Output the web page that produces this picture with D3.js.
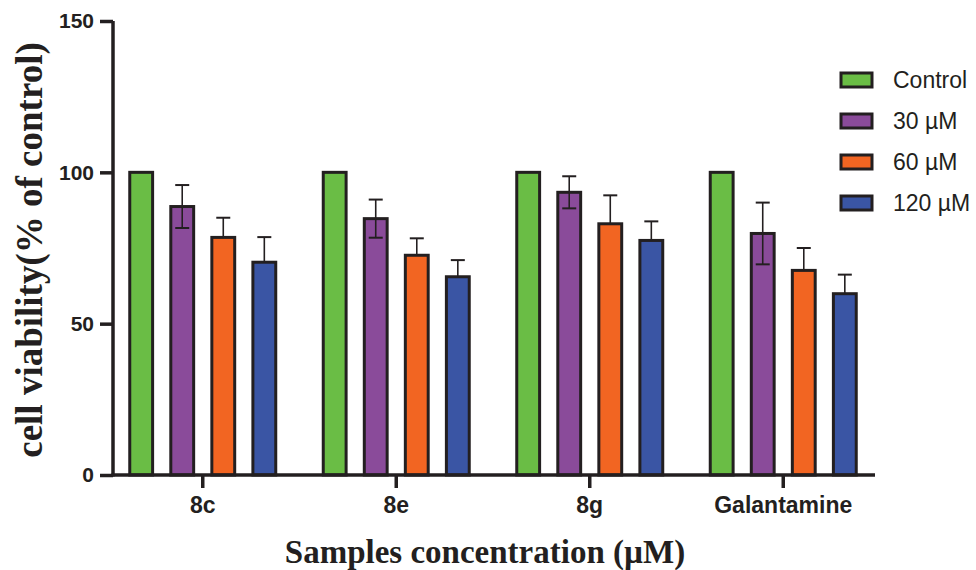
<!DOCTYPE html>
<html>
<head>
<meta charset="utf-8">
<script src="https://cdn.jsdelivr.net/npm/d3@7"></script>
<style>
  body { margin: 0; background: #fff; }
  svg text { fill: #231f20; }
</style>
</head>
<body>
<svg id="chart" width="976" height="570"></svg>
<script>
// samples and treatment series
var samples = ['8c', '8e', '8g', 'Galantamine'];
var series = ['Control', '30 \u00b5M', '60 \u00b5M', '120 \u00b5M'];
var colors = ['#6abd45', '#8a4b9a', '#f26522', '#3a55a4'];

// mean viability per series (one value per sample)
var control = [100, 100, 100, 100];
var conc30 = [88.7, 84.7, 93.4, 79.8];
var conc60 = [78.5, 72.6, 83.0, 67.6];
var conc120 = [70.3, 65.5, 77.5, 59.9];

// error (SD) per series
var err30 = [7.1, 6.3, 5.3, 10.2];
var err60 = [6.5, 5.6, 9.4, 7.4];
var err120 = [8.3, 5.5, 6.3, 6.3];

var yTicks = [0, 50, 100, 150];

var values = [control, conc30, conc60, conc120];
var errors = [null, err30, err60, err120];

var ink = '#231f20';
var svg = d3.select('#chart');

var y = d3.scaleLinear().domain([0, 150]).range([475, 21]);

var x0 = d3.scaleBand()
    .domain(samples)
    .range([106, 880])
    .paddingInner(0.23)
    .paddingOuter(0.115);

var x1 = d3.scaleBand()
    .domain(series)
    .range([0, x0.bandwidth()])
    .paddingInner(0.37);

var rows = [];
samples.forEach(function(s, i){
    series.forEach(function(k, j){
        rows.push({
            sample: s,
            key: k,
            color: colors[j],
            value: values[j][i],
            err: errors[j] ? errors[j][i] : null
        });
    });
});

// bars
var g = svg.append('g');
g.selectAll('rect.bar')
    .data(rows)
    .enter()
    .append('rect')
    .attr('class', 'bar')
    .attr('x', function(d){ return x0(d.sample) + x1(d.key) + 1.5; })
    .attr('y', function(d){ return y(d.value); })
    .attr('width', x1.bandwidth() - 3)
    .attr('height', function(d){ return y(0) - y(d.value); })
    .attr('fill', function(d){ return d.color; })
    .attr('stroke', ink)
    .attr('stroke-width', 3);

// error bars
var eb = rows.filter(function(d){ return d.err !== null; });
var cx = function(d){ return x0(d.sample) + x1(d.key) + x1.bandwidth() / 2; };

g.selectAll('line.err')
    .data(eb)
    .enter()
    .append('line')
    .attr('x1', cx).attr('x2', cx)
    .attr('y1', function(d){ return d.key === series[1] ? y(d.value - d.err) : y(d.value); })
    .attr('y2', function(d){ return y(d.value + d.err); })
    .attr('stroke', ink)
    .attr('stroke-width', 1.6);

g.selectAll('line.capTop')
    .data(eb)
    .enter()
    .append('line')
    .attr('x1', function(d){ return cx(d) - 7; })
    .attr('x2', function(d){ return cx(d) + 7; })
    .attr('y1', function(d){ return y(d.value + d.err); })
    .attr('y2', function(d){ return y(d.value + d.err); })
    .attr('stroke', ink)
    .attr('stroke-width', 2);

// purple bars show the lower cap too
g.selectAll('line.capBot')
    .data(eb.filter(function(d){ return d.key === series[1]; }))
    .enter()
    .append('line')
    .attr('x1', function(d){ return cx(d) - 7; })
    .attr('x2', function(d){ return cx(d) + 7; })
    .attr('y1', function(d){ return y(d.value - d.err); })
    .attr('y2', function(d){ return y(d.value - d.err); })
    .attr('stroke', ink)
    .attr('stroke-width', 2);

// y axis
var yAxis = svg.append('g')
    .attr('transform', 'translate(113,0)')
    .call(d3.axisLeft(y).tickValues(yTicks).tickSize(13).tickPadding(6));
yAxis.select('.domain').attr('stroke', ink).attr('stroke-width', 3.5)
    .attr('d', 'M0,' + y(150) + 'V' + (y(0) + 1.5));
yAxis.selectAll('.tick line').attr('stroke', ink).attr('stroke-width', 3.5);
yAxis.selectAll('.tick text')
    .style('font-family', '"Liberation Sans", Arial, sans-serif')
    .style('font-weight', 'bold')
    .style('font-size', '21px')
    .attr('fill', ink);

// x axis
var xAxis = svg.append('g')
    .attr('transform', 'translate(0,' + y(0) + ')')
    .call(d3.axisBottom(x0).tickSize(13).tickPadding(9));
xAxis.select('.domain').attr('stroke', ink).attr('stroke-width', 3.5)
    .attr('d', 'M111.5,0H875');
xAxis.selectAll('.tick line').attr('stroke', ink).attr('stroke-width', 3.5);
xAxis.selectAll('.tick text')
    .style('font-family', '"Liberation Sans", Arial, sans-serif')
    .style('font-weight', 'bold')
    .style('font-size', '23px')
    .attr('fill', ink);

// axis titles
svg.append('text')
    .attr('transform', 'translate(42,250) rotate(-90)')
    .attr('text-anchor', 'middle')
    .style('font-family', '"Liberation Serif", "Times New Roman", serif')
    .style('font-weight', 'bold')
    .style('font-size', '37px')
    .text('cell viability(% of control)');

svg.append('text')
    .attr('x', 485)
    .attr('y', 563)
    .attr('text-anchor', 'middle')
    .style('font-family', '"Liberation Serif", "Times New Roman", serif')
    .style('font-weight', 'bold')
    .style('font-size', '33px')
    .text('Samples concentration (\u00b5M)');

// legend
var legend = svg.append('g')
    .selectAll('g')
    .data(series)
    .enter()
    .append('g')
    .attr('transform', function(d, i){ return 'translate(841,' + (73 + i * 41) + ')'; });

legend.append('rect')
    .attr('width', 31)
    .attr('height', 14)
    .attr('fill', function(d, i){ return colors[i]; })
    .attr('stroke', ink)
    .attr('stroke-width', 3);

legend.append('text')
    .attr('x', 52)
    .attr('y', 15)
    .style('font-family', '"Liberation Sans", Arial, sans-serif')
    .style('font-size', '23px')
    .text(function(d){ return d; });
</script>
</body>
</html>
